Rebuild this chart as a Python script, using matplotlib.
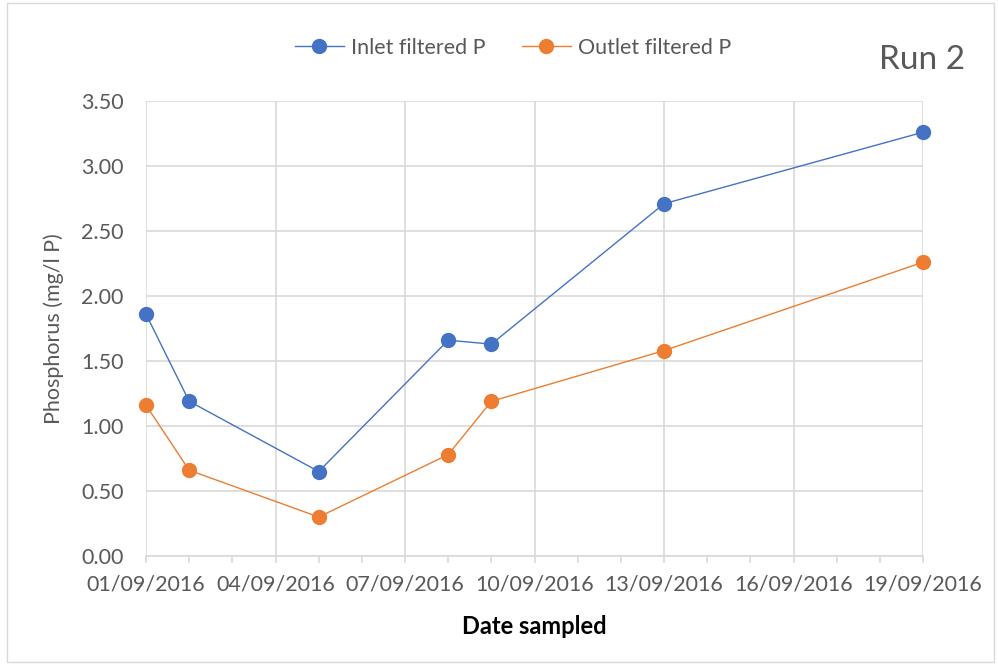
import matplotlib.pyplot as plt
import matplotlib.dates as mdates
import pandas as pd

dates = ['2016-09-01', '2016-09-02', '2016-09-05', '2016-09-08',
         '2016-09-09', '2016-09-13', '2016-09-19']
inlet = [1.86, 1.19, 0.65, 1.66, 1.63, 2.71, 3.26]
outlet = [1.16, 0.66, 0.30, 0.78, 1.19, 1.58, 2.26]
y_ticks = [0.0, 0.5, 1.0, 1.5, 2.0, 2.5, 3.0, 3.5]

plt.rcParams['font.family'] = ['Lato', 'DejaVu Sans']
text_col = '#595959'
grid_col = '#d9d9d9'

x = pd.to_datetime(dates)

fig = plt.figure(figsize=(9.98, 6.65), dpi=100)
ax = fig.add_axes([0.1463, 0.1639, 0.7786, 0.6842])

ax.plot(x, inlet, color='#4472C4', linewidth=1, marker='o', markersize=10,
        label='Inlet filtered P', clip_on=False, zorder=3)
ax.plot(x, outlet, color='#ED7D31', linewidth=1, marker='o', markersize=10,
        label='Outlet filtered P', clip_on=False, zorder=3)

ax.set_xlim(pd.Timestamp('2016-09-01'), pd.Timestamp('2016-09-19'))
ax.set_ylim(0, 3.5)
ax.set_yticks(y_ticks)
ax.yaxis.set_major_formatter(plt.FuncFormatter(lambda v, p: f'{v:.2f}'))

ax.xaxis.set_major_locator(mdates.DayLocator(bymonthday=[1, 4, 7, 10, 13, 16, 19]))
ax.xaxis.set_minor_locator(mdates.DayLocator())
ax.xaxis.set_major_formatter(mdates.DateFormatter('%d/%m/%Y'))

ax.grid(True, color=grid_col, linewidth=1.2)
ax.set_axisbelow(True)
for s in ['top', 'right', 'left']:
    ax.spines[s].set_visible(False)
ax.spines['bottom'].set_color(grid_col)
ax.spines['bottom'].set_linewidth(1.2)

ax.tick_params(axis='y', length=0, pad=16, labelsize=15.5, labelcolor=text_col)
ax.tick_params(axis='x', which='both', length=5, color=grid_col, width=1.2, pad=8,
               labelsize=15.5, labelcolor=text_col)

ax.set_ylabel('Phosphorus (mg/l P)', fontsize=15.5, color=text_col, labelpad=12)
ax.set_xlabel('Date sampled', fontsize=17, fontweight='bold', color='black', labelpad=15)

ax.legend(loc='center', bbox_to_anchor=(0.472, 1.117), ncol=2, frameon=False,
          fontsize=15.5, labelcolor=text_col, handlelength=2.3, handletextpad=0.3,
          columnspacing=1.7)
fig.text(0.967, 0.91, 'Run 2', fontsize=24, color=text_col, ha='right', va='center')

border = plt.Rectangle((0.007, 0.005), 0.989, 0.99, transform=fig.transFigure,
                       fill=False, edgecolor='#d9d9d9', linewidth=1)
fig.patches.append(border)

fig.savefig('out.png', dpi=100)
